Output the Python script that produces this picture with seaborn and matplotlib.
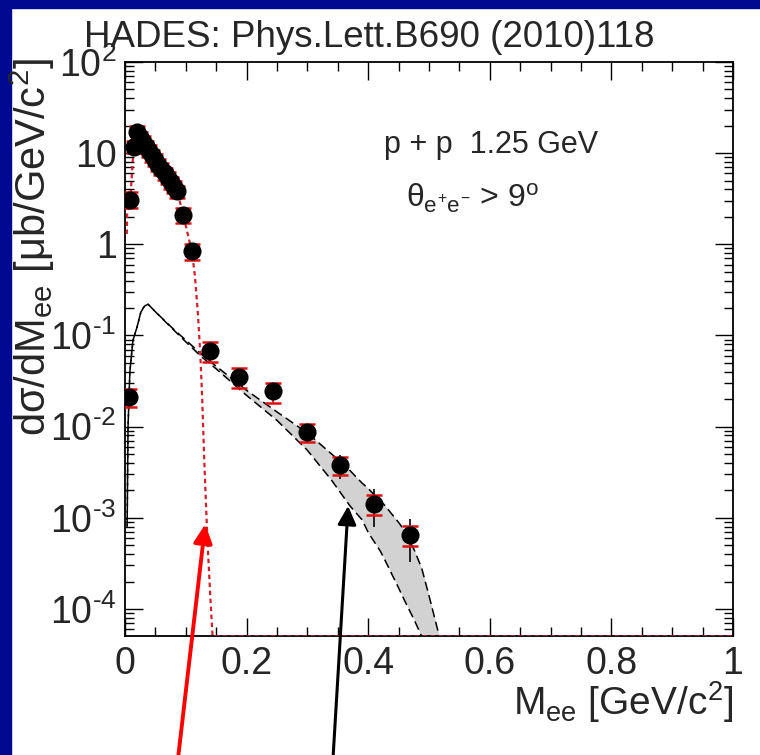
import numpy as np
import seaborn as sns
import matplotlib.pyplot as plt
from matplotlib.patches import Rectangle
from matplotlib.ticker import FixedLocator, FixedFormatter, MultipleLocator, LogLocator, NullFormatter

# HADES p+p 1.25 GeV dielectron spectrum
m_data = [0.007, 0.009, 0.014, 0.019, 0.025, 0.030, 0.035, 0.040, 0.045, 0.050,
          0.055, 0.060, 0.065, 0.070, 0.075, 0.080, 0.085, 0.095, 0.110,
          0.140, 0.187, 0.243, 0.299, 0.354, 0.410, 0.469]
xs_data = [0.021, 3.1, 11.8, 17.0, 15.0, 13.3, 11.9, 10.6, 9.5, 8.5,
           7.5, 6.7, 6.0, 5.4, 4.8, 4.3, 3.8, 2.1, 0.84,
           0.068, 0.0354, 0.0243, 0.0088, 0.0038, 0.00143, 0.00065]
# relative systematic (red caps) and statistical (black bars) errors
sys_rel = [0.22, 0.2, 0.15, 0.18, 0.15, 0.15, 0.15, 0.15, 0.15, 0.15,
           0.15, 0.15, 0.15, 0.15, 0.15, 0.15, 0.15, 0.18, 0.2,
           0.25, 0.25, 0.25, 0.22, 0.22, 0.25, 0.25]
stat_rel = [0.1, 0.05, 0.03, 0.03, 0.03, 0.03, 0.03, 0.03, 0.03, 0.03,
            0.03, 0.03, 0.03, 0.03, 0.03, 0.03, 0.03, 0.05, 0.08,
            0.15, 0.15, 0.15, 0.2, 0.3, 0.45, 0.5]

# pi0 Dalitz simulation (red dotted)
m_pi0 = [0.003, 0.0035, 0.006, 0.009, 0.012, 0.014, 0.017, 0.020, 0.025, 0.030,
         0.040, 0.050, 0.060, 0.070, 0.080, 0.085, 0.090, 0.095, 0.100, 0.105,
         0.110, 0.115, 0.120, 0.124, 0.127, 0.130, 0.133, 0.136, 0.140, 0.144, 1.0]
xs_pi0 = [1.3, 2.2, 2.6, 3.2, 7.0, 11.5, 15.5, 17.0, 16.0, 14.0,
          11.0, 8.7, 6.8, 5.4, 4.3, 3.8, 3.0, 2.1, 1.6, 1.15,
          0.84, 0.45, 0.17, 0.06, 0.02, 0.005, 0.0015, 0.0005, 0.00015, 5e-5, 5e-5]

# model band (gray, dashed borders)
m_band = [0.0035, 0.005, 0.008, 0.013, 0.020, 0.026, 0.032, 0.038, 0.050, 0.080,
          0.100, 0.125, 0.150, 0.200, 0.250, 0.300, 0.340, 0.370, 0.390, 0.400,
          0.420, 0.426, 0.450, 0.460, 0.476, 0.488, 0.500, 0.517]
band_hi = [8e-4, 0.01, 0.04, 0.088, 0.125, 0.18, 0.21, 0.22, 0.182, 0.117,
           0.089, 0.063, 0.046, 0.025, 0.0145, 0.0085, 0.0050, 0.0033, 0.0024, 0.0021,
           0.00151, 0.0014, 0.00089, 0.00072, 0.00044, 0.00028, 0.00014, 5e-5]
band_lo = [8e-4, 0.01, 0.04, 0.088, 0.125, 0.18, 0.21, 0.22, 0.182, 0.115,
           0.085, 0.059, 0.043, 0.022, 0.0117, 0.0055, 0.00257, 0.00135, 0.00095, 0.00069,
           0.00043, 0.00036, 0.00017, 0.000123, 7.5e-5, 5e-5, 5e-5, 5e-5]

y_ticks = [1e-4, 1e-3, 1e-2, 1e-1, 1, 10, 100]
y_ticklabels = [r'10$^{\text{-}4}$', r'10$^{\text{-}3}$', r'10$^{\text{-}2}$',
                r'10$^{\text{-}1}$', '1', '10', '10$^{2}$']
x_ticks = [0, 0.2, 0.4, 0.6, 0.8, 1.0]
x_ticklabels = ['0', '0.2', '0.4', '0.6', '0.8', '1']

sns.set_style('ticks')
plt.rcParams['font.family'] = ['Liberation Sans', 'DejaVu Sans']
plt.rcParams['mathtext.fontset'] = 'custom'
plt.rcParams['mathtext.rm'] = 'Liberation Sans'
plt.rcParams['mathtext.it'] = 'Liberation Sans'
plt.rcParams['mathtext.bf'] = 'Liberation Sans:bold'

fig = plt.figure(figsize=(7.6, 7.55), dpi=100, facecolor='white')
ax = fig.add_axes([125 / 760, 1 - 636 / 755, 608 / 760, 574 / 755])
ax.set_facecolor('white')

# slide background strips
fig.patches.append(Rectangle((0, 0), 11 / 760, 1, transform=fig.transFigure,
                             color='#00098f', zorder=-1))
fig.patches.append(Rectangle((0, 1 - 8 / 755), 1, 8 / 755, transform=fig.transFigure,
                             color='#00098f', zorder=-1))

# model band
ax.fill_between(m_band, band_lo, band_hi, color='#d2d2d2', lw=0, zorder=1)
sns.lineplot(x=m_band, y=band_lo, ax=ax, color='black', lw=1.1, sort=False,
             estimator=None, zorder=2, linestyle=(0, (6, 3)))
sns.lineplot(x=m_band, y=band_hi, ax=ax, color='black', lw=1.1, sort=False,
             estimator=None, zorder=2, linestyle=(4.5, (6, 3)))

# pi0 curve
sns.lineplot(x=m_pi0, y=xs_pi0, ax=ax, color='#d0202a', lw=1.6, sort=False,
             estimator=None, zorder=3, linestyle=(0, (2, 1.6)))

# data with errors
m_arr = np.array(m_data)
y_arr = np.array(xs_data)
stat = np.array(stat_rel) * y_arr
sys_ = np.array(sys_rel) * y_arr
ax.errorbar(m_arr, y_arr, yerr=stat, fmt='none', ecolor='black', elinewidth=1.2,
            capsize=0, zorder=4)
ax.errorbar(m_arr, y_arr, yerr=sys_, fmt='none', ecolor='#e01010', elinewidth=1.3,
            capsize=5.5, capthick=1.8, zorder=5)
sns.scatterplot(x=m_data, y=xs_data, ax=ax, color='black', s=170, edgecolor='black',
                linewidth=0, zorder=6)

ax.set_yscale('log')
ax.set_xlim(0, 1)
ax.set_ylim(5.05e-5, 100)

ax.yaxis.set_major_locator(FixedLocator(y_ticks))
ax.yaxis.set_major_formatter(FixedFormatter(y_ticklabels))
ax.yaxis.set_minor_locator(LogLocator(base=10, subs=np.arange(2, 10), numticks=20))
ax.yaxis.set_minor_formatter(NullFormatter())
ax.xaxis.set_major_locator(FixedLocator(x_ticks))
ax.xaxis.set_major_formatter(FixedFormatter(x_ticklabels))
ax.xaxis.set_minor_locator(MultipleLocator(0.05))

ax.tick_params(which='both', direction='in', top=True, right=True, color='black',
               width=1.0)
ax.tick_params(which='major', length=13, labelsize=27, pad=6)
ax.tick_params(which='minor', length=6.5)
ax.tick_params(axis='x', which='major', pad=7)
for sp in ax.spines.values():
    sp.set_color('black')
    sp.set_linewidth(1.3)

ax.set_xlabel('M$_{ee}$ [GeV/c$^{2}$]', fontsize=28, loc='right', labelpad=-2)
ax.set_ylabel(r'd$\sigma$/dM$_{ee}$ [$\mu$b/GeV/c$^{2}$]', fontsize=30, loc='top')
ax.yaxis.set_label_coords(-0.112, 1.007)

ax.text(0.426, 0.841, 'p + p  1.25 GeV', transform=ax.transAxes, fontsize=22,
        ha='left', va='baseline')
ax.text(0.462, 0.746, r'$\theta_{e^{+}e^{-}}$ > 9$^{\rm o}$', transform=ax.transAxes,
        fontsize=23, ha='left', va='baseline')

fig.text(369 / 760, 1 - 47 / 755, 'HADES: Phys.Lett.B690 (2010)118', fontsize=26.5,
         ha='center', va='baseline')

# arrows pointing at the curves
ax.annotate('', xy=(0.132, 8.5e-4), xycoords='data', xytext=(0.087, -0.215),
            textcoords='axes fraction', annotation_clip=False,
            arrowprops=dict(arrowstyle='-|>', color='red', lw=2.8, mutation_scale=28,
                            shrinkA=0, shrinkB=0))
ax.annotate('', xy=(0.367, 1.35e-3), xycoords='data', xytext=(0.342, -0.215),
            textcoords='axes fraction', annotation_clip=False,
            arrowprops=dict(arrowstyle='-|>', color='black', lw=2.2, mutation_scale=28,
                            shrinkA=0, shrinkB=0))

fig.savefig('out.png', dpi=100, facecolor='white')
